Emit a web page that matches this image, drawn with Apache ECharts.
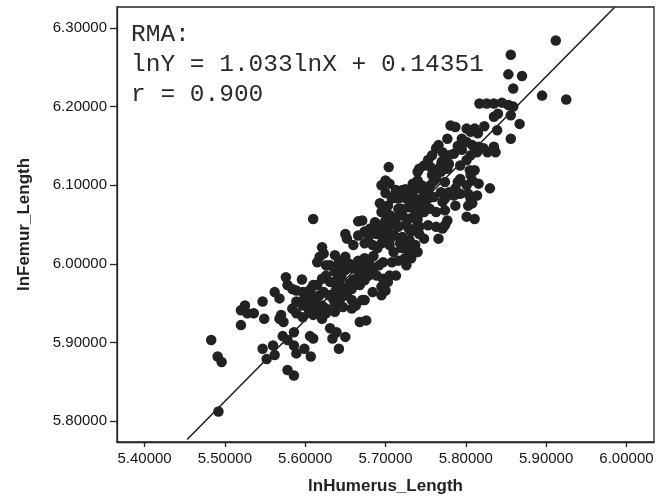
<!DOCTYPE html>
<html>
<head>
<meta charset="utf-8">
<script src="https://cdn.jsdelivr.net/npm/echarts@6/dist/echarts.min.js"></script>
<style>
html,body{margin:0;padding:0;background:#fff;}
#chart{width:665px;height:500px;}
</style>
</head>
<body>
<div id="chart"></div>
<script>
// lnHumerus_Length values (x) of each specimen
var lnHumerus = [
5.912,5.856,5.853,5.870,5.859,5.895,5.925,5.817,5.826,5.835,5.845,5.853,5.859,5.840,5.835,5.856,5.867,5.823,5.839,5.856,
5.781,5.787,5.801,5.806,5.811,5.815,5.777,5.766,5.763,5.771,5.779,5.795,5.801,5.808,5.816,5.814,5.822,5.827,5.835,5.837,
5.806,5.801,5.793,5.805,5.758,5.753,5.748,5.756,5.742,5.740,5.704,5.769,5.779,5.777,5.769,5.763,5.758,5.756,5.753,5.811,
5.806,5.808,5.801,5.816,5.830,5.793,5.790,5.787,5.785,5.793,5.774,5.769,5.774,5.779,5.771,5.787,5.803,5.806,5.808,5.814,
5.803,5.801,5.811,5.774,5.763,5.777,5.774,5.740,5.734,5.742,5.729,5.721,5.716,5.726,5.737,5.700,5.705,5.695,5.713,5.708,
5.693,5.703,5.716,5.729,5.737,5.742,5.748,5.750,5.745,5.734,5.748,5.753,5.695,5.705,5.713,5.721,5.729,5.740,5.671,5.666,
5.687,5.695,5.703,5.716,5.729,5.742,5.753,5.763,5.771,5.681,5.674,5.679,5.689,5.697,5.711,5.721,5.732,5.742,5.748,5.766,
5.650,5.666,5.652,5.660,5.674,5.684,5.695,5.705,5.718,5.726,5.737,5.740,5.610,5.621,5.623,5.618,5.615,5.626,5.642,5.647,
5.637,5.650,5.655,5.666,5.674,5.642,5.650,5.660,5.668,5.676,5.684,5.692,5.697,5.708,5.716,5.724,5.732,5.729,5.726,5.631,
5.637,5.626,5.621,5.631,5.639,5.647,5.658,5.668,5.674,5.666,5.679,5.689,5.697,5.705,5.713,5.703,5.695,5.684,5.695,5.700,
5.674,5.658,5.652,5.644,5.637,5.642,5.623,5.615,5.610,5.607,5.618,5.613,5.621,5.626,5.637,5.647,5.658,5.637,5.626,5.607,
5.602,5.599,5.607,5.597,5.605,5.615,5.610,5.621,5.596,5.589,5.597,5.576,5.578,5.584,5.562,5.568,5.589,5.594,5.584,5.589,
5.597,5.547,5.570,5.568,5.573,5.525,5.520,5.528,5.536,5.549,5.520,5.483,5.491,5.496,5.492,5.572,5.578,5.586,5.586,5.589,
5.599,5.607,5.606,5.610,5.547,5.560,5.552,5.562,5.578,5.586,5.631,5.639,5.634,5.650,5.642,5.668,5.676,5.671,5.663,
5.700,5.705,5.710,5.715,5.720,5.725,5.735,5.745,5.750,5.760,5.765,5.770,5.785,5.790,5.795,5.760,5.755,5.690,5.685,5.680,
5.670,5.660,5.655,5.650,5.645,5.640,5.635,5.630,5.690,5.700,5.710,5.720,5.730,5.740,5.745,5.725,5.735,5.712,5.700
];
// lnFemur_Length values (y), same order
var lnFemur = [
6.284,6.266,6.241,6.239,6.223,6.214,6.209,6.204,6.204,6.204,6.205,6.202,6.200,6.191,6.187,6.189,6.178,6.175,6.170,6.159,
6.176,6.174,6.172,6.168,6.172,6.166,6.159,6.151,6.147,6.142,6.138,6.159,6.155,6.151,6.149,6.142,6.147,6.142,6.149,6.142,
6.138,6.132,6.125,6.119,6.138,6.132,6.125,6.123,6.121,6.117,6.123,6.125,6.127,6.121,6.117,6.108,6.113,6.100,6.091,6.119,
6.113,6.106,6.100,6.102,6.096,6.108,6.104,6.096,6.087,6.089,6.104,6.091,6.083,6.091,6.079,6.074,6.089,6.083,6.077,6.087,
6.074,6.060,6.057,6.068,6.066,6.055,6.049,6.106,6.102,6.096,6.091,6.094,6.083,6.083,6.079,6.106,6.102,6.100,6.094,6.083,
6.077,6.074,6.070,6.072,6.070,6.066,6.066,6.074,6.083,6.087,6.087,6.083,6.066,6.062,6.057,6.062,6.057,6.057,6.055,6.054,
6.053,6.049,6.045,6.047,6.045,6.047,6.049,6.047,6.045,6.045,6.041,6.034,6.038,6.034,6.036,6.034,6.041,6.038,6.032,6.032,
6.038,6.036,6.032,6.024,6.026,6.024,6.026,6.024,6.026,6.021,6.024,6.015,6.057,6.021,6.013,6.009,6.002,5.998,6.002,6.004,
6.011,6.009,6.000,6.004,6.007,5.994,5.992,5.994,5.998,5.996,5.992,5.998,6.002,6.002,6.004,6.007,6.007,6.015,5.998,5.998,
5.990,5.985,5.981,5.977,5.971,5.968,5.968,5.973,5.979,5.983,5.985,5.985,5.981,5.985,5.985,5.977,5.971,5.964,5.960,5.966,
5.954,5.954,5.960,5.956,5.964,5.977,5.964,5.973,5.973,5.968,5.960,5.954,5.947,5.943,5.949,5.945,5.943,5.939,5.937,5.962,
5.964,5.956,5.949,5.947,5.939,5.941,5.935,5.930,5.980,5.966,5.964,5.983,5.973,5.968,5.964,5.956,5.952,5.951,5.943,5.937,
5.932,5.952,5.935,5.930,5.926,5.947,5.941,5.937,5.937,5.930,5.922,5.903,5.882,5.875,5.812,5.908,5.903,5.896,5.913,5.886,
5.892,5.882,5.908,5.905,5.892,5.896,5.879,5.884,5.865,5.858,5.918,5.913,5.905,5.907,5.892,5.926,5.928,5.954,5.947,
6.040,6.030,6.050,6.060,6.070,6.050,6.060,6.075,6.095,6.105,6.120,6.130,6.140,6.150,6.145,6.085,6.070,6.020,6.010,6.000,
5.990,5.980,5.975,5.965,5.985,5.980,5.955,5.960,6.045,6.055,6.015,6.020,6.030,6.050,6.100,6.095,6.098,6.088,6.090
];
// tick labels
var xTicks = [5.4, 5.5, 5.6, 5.7, 5.8, 5.9, 6.0];
var yTicks = [5.8, 5.9, 6.0, 6.1, 6.2, 6.3];
// RMA line: lnY = 1.033 lnX + 0.14351, drawn between these lnX values
var rmaSlope = 1.033;
var rmaIntercept = 0.14351;
var rmaXEnds = [5.453, 5.985];
var annotationLines = ['RMA:', 'lnY = 1.033lnX + 0.14351', 'r = 0.900'];

var points = lnHumerus.map(function (x, i) { return [x, lnFemur[i]]; });
var rmaLine = rmaXEnds.map(function (x) { return [x, rmaSlope * x + rmaIntercept]; });

var chart = echarts.init(document.getElementById('chart'), null, {renderer: 'canvas'});
var labelStyle = {
  color: '#151515', fontFamily: 'Liberation Sans, Arial, sans-serif', fontSize: 15,
  formatter: function (v) { return Number(v).toFixed(5); }
};
chart.setOption({
  animation: false,
  backgroundColor: '#ffffff',
  grid: {left: 117, right: 11, top: 7, bottom: 57, show: true, borderColor: '#222', borderWidth: 1.3, backgroundColor: 'transparent'},
  xAxis: {
    type: 'value', min: 5.3657, max: 6.0343,
    name: 'lnHumerus_Length', nameLocation: 'middle', nameGap: 36,
    nameTextStyle: {fontFamily: 'Liberation Sans, Arial, sans-serif', fontWeight: 'bold', fontSize: 17, color: '#222'},
    axisLine: {show: true, onZero: false, lineStyle: {color: '#222', width: 1.3}},
    axisTick: {show: true, length: 5, customValues: xTicks, lineStyle: {color: '#222', width: 1.3}},
    axisLabel: Object.assign({margin: 9, customValues: xTicks, showMinLabel: true, showMaxLabel: true}, labelStyle),
    splitLine: {show: false}
  },
  yAxis: {
    type: 'value', min: 5.7733, max: 6.3267,
    name: 'lnFemur_Length', nameLocation: 'middle', nameGap: 84,
    nameTextStyle: {fontFamily: 'Liberation Sans, Arial, sans-serif', fontWeight: 'bold', fontSize: 17, color: '#222'},
    axisLine: {show: true, onZero: false, lineStyle: {color: '#222', width: 1.3}},
    axisTick: {show: true, length: 7, customValues: yTicks, lineStyle: {color: '#222', width: 1.3}},
    axisLabel: Object.assign({margin: 10, customValues: yTicks}, labelStyle),
    splitLine: {show: false}
  },
  graphic: annotationLines.map(function (t, i) {
    return {
      type: 'text', left: 131, top: 22 + i * 30, silent: true,
      style: {text: t, fill: '#2a2a2a', font: '24.5px "Liberation Mono", "DejaVu Sans Mono", monospace'}
    };
  }),
  series: [
    {
      type: 'line', data: rmaLine, symbol: 'none', silent: true, z: 2,
      lineStyle: {color: '#1a1a1a', width: 1.5}
    },
    {
      type: 'scatter', data: points, symbol: 'circle', symbolSize: 10.5, z: 3,
      itemStyle: {color: '#222222', opacity: 1}
    }
  ]
});
</script>
</body>
</html>
